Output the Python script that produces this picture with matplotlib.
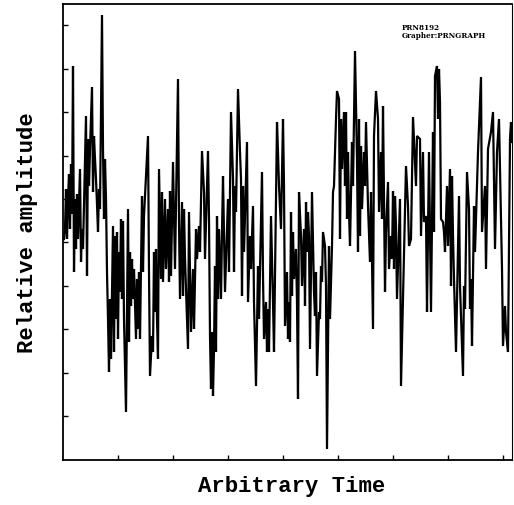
import numpy as np
import matplotlib.pyplot as plt

# time (arbitrary units) and relative amplitude
time = [1, 2, 3, 4, 5, 6, 7, 8, 9, 10, 11, 12, 13, 14, 15, 17, 18, 19, 20, 23,
        24, 25, 26, 27, 29, 30, 31, 32, 33, 34, 35, 36, 37, 39, 40, 41, 42, 43, 44, 45,
        46, 47, 48, 50, 51, 52, 53, 54, 55, 56, 57, 58, 59, 60, 61, 63, 65, 66, 67, 68,
        69, 70, 71, 73, 74, 75, 76, 77, 79, 80, 81, 85, 86, 87, 89, 90, 91, 92, 93, 94,
        95, 96, 98, 99, 100, 102, 103, 105, 106, 107, 108, 110, 112, 115, 116, 117, 119, 120, 121, 122,
        125, 126, 128, 130, 131, 133, 134, 136, 137, 139, 141, 142, 145, 146, 147, 148, 149, 150, 151, 152,
        153, 154, 155, 156, 158, 159, 160, 162, 165, 166, 168, 170, 171, 172, 173, 175, 177, 178, 179, 180,
        181, 184, 185, 187, 188, 190, 191, 193, 195, 196, 199, 200, 201, 203, 204, 205, 206, 208, 210, 211,
        214, 215, 216, 218, 220, 221, 222, 224, 225, 226, 227, 228, 229, 230, 231, 233, 234, 235, 236, 238,
        239, 241, 242, 243, 244, 245, 246, 247, 249, 251, 252, 253, 254, 256, 257, 258, 259, 260, 262, 263,
        264, 266, 267, 269, 270, 271, 273, 274, 276, 277, 278, 279, 281, 282, 283, 284, 285, 286, 287, 289,
        290, 292, 294, 295, 296, 297, 298, 299, 301, 302, 303, 305, 307, 308, 310, 311, 313, 315, 316, 318,
        319, 320, 322, 323, 325, 326, 328, 329, 330, 331, 332, 333, 334, 337, 338, 341, 343, 345, 346, 348,
        350, 352, 353, 354, 357, 358, 360, 361, 363, 364, 366, 368, 370, 371, 372, 374, 375, 376, 377, 378,
        380, 381, 382, 384, 385, 387, 388, 389, 390, 391, 393, 396, 397, 400, 401, 402, 404, 406, 407, 408,
        409, 411, 412, 413, 415, 418, 419, 422, 423, 425, 428, 430, 432, 434, 436, 439, 440, 442, 443, 445,
        447, 448, 449]
amplitude = [221, 231, 271, 221, 261, 286, 231, 296, 246, 394, 188, 261, 211, 266, 221, 291, 198, 231, 211, 344,
             184, 321, 274, 311, 373, 268, 324, 301, 281, 256, 228, 271, 251, 445, 311, 241, 301, 261, 188, 141,
             88, 161, 101, 234, 108, 224, 141, 228, 121, 208, 168, 241, 161, 239, 141, 48, 251, 118, 208, 154,
             201, 161, 191, 121, 181, 131, 188, 121, 264, 188, 244, 324, 188, 84, 124, 108, 208, 148, 211, 141,
             101, 291, 181, 268, 178, 261, 191, 251, 178, 269, 184, 298, 191, 381, 238, 161, 258, 164, 251, 201,
             111, 248, 128, 191, 131, 231, 201, 234, 208, 309, 268, 201, 309, 241, 124, 71, 128, 64, 111, 194,
             108, 244, 161, 231, 161, 228, 284, 168, 261, 188, 348, 281, 188, 274, 248, 371, 308, 281, 164, 274,
             208, 318, 158, 224, 191, 254, 158, 74, 194, 141, 288, 184, 121, 158, 108, 151, 108, 244, 158, 108,
             338, 308, 274, 231, 341, 274, 134, 188, 121, 158, 118, 248, 164, 228, 181, 211, 158, 61, 268, 224,
             174, 231, 154, 258, 208, 248, 224, 111, 268, 168, 144, 188, 84, 148, 141, 194, 178, 228, 214, 174,
             11, 214, 141, 214, 268, 274, 341, 369, 361, 221, 341, 291, 348, 274, 348, 241, 308, 248, 214, 318,
             274, 409, 301, 208, 341, 224, 314, 251, 308, 274, 338, 254, 198, 268, 131, 324, 369, 341, 248, 308,
             241, 354, 168, 228, 278, 191, 224, 201, 269, 191, 264, 234, 161, 261, 74, 208, 294, 254, 214, 221,
             343, 298, 274, 324, 321, 224, 308, 238, 244, 148, 308, 148, 328, 228, 384, 394, 341, 391, 358, 241,
             238, 228, 208, 274, 214, 291, 174, 284, 224, 181, 108, 264, 174, 84, 174, 151, 288, 251, 151, 181,
             114, 254, 208, 241, 308, 383, 228, 274, 191, 311, 328, 348, 211, 308, 341, 191, 114, 154, 128, 108,
             321, 338, 318]

x_ticks = np.arange(1, 9) * 55
y_ticks = 44 + 43.4 * np.arange(10)

fig = plt.figure(figsize=(5.14, 5.06), dpi=100, facecolor='w')
ax = fig.add_axes([63 / 514, 45 / 506, 449 / 514, 456 / 506])

ax.plot(time, amplitude, color='k', lw=1.6, solid_joinstyle='miter')

ax.set_xlim(0, 449)
ax.set_ylim(0, 456)
ax.set_xticks(x_ticks)
ax.set_yticks(y_ticks)
ax.tick_params(direction='in', length=3.5, width=1, labelbottom=False, labelleft=False)
for s in ax.spines.values():
    s.set_linewidth(1.3)
ax.spines['right'].set_linewidth(0.8)

ax.text(0.755, 0.958, 'PRN8192\nGrapher:PRNGRAPH', transform=ax.transAxes,
        fontsize=5.2, fontweight='bold', family='DejaVu Serif', va='top', linespacing=1.05)

fig.text(292 / 514, 1 - 487 / 506, 'Arbitrary Time', ha='center', va='center',
         fontsize=16, fontweight='bold', family='Liberation Mono')
fig.text(28 / 514, 1 - 233 / 506, 'Relative amplitude', ha='center', va='center',
         rotation=90, fontsize=16, fontweight='bold', family='Liberation Mono')

fig.savefig('out.png', dpi=100, facecolor='w')
